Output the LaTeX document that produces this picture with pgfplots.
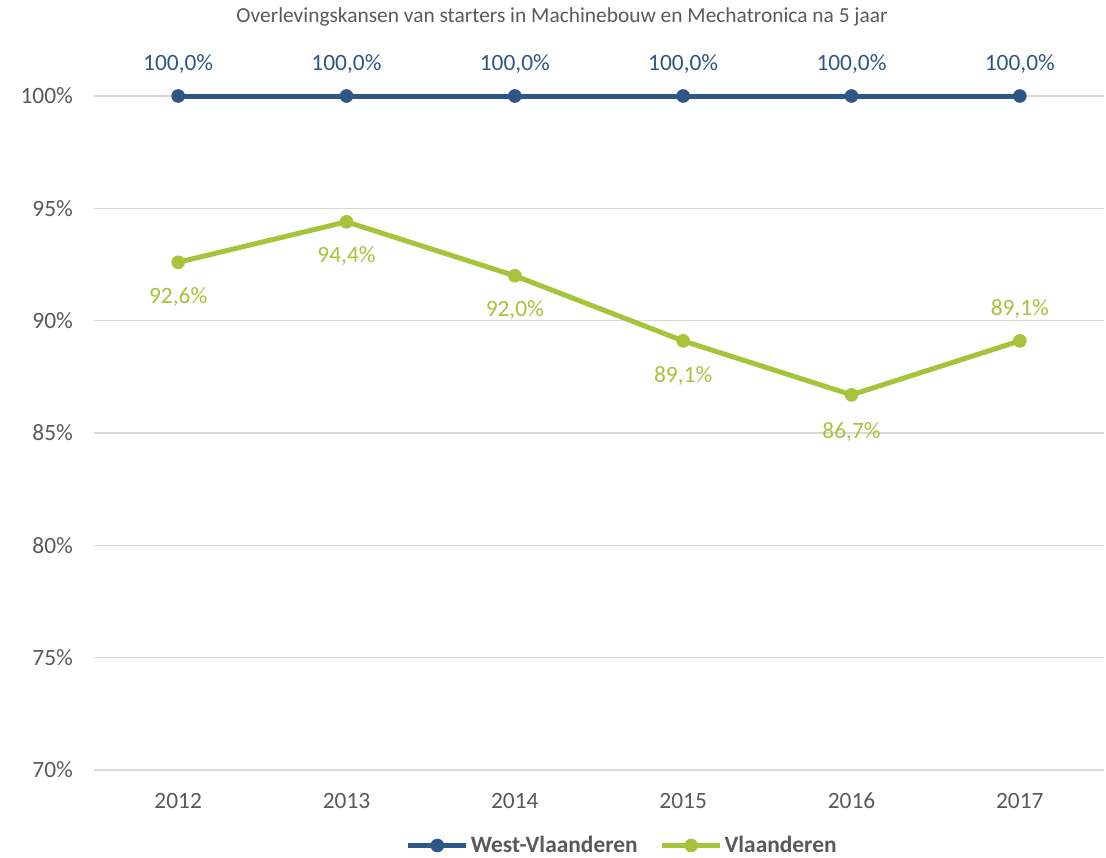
\documentclass[border=0pt]{standalone}
\usepackage{fontspec}
\setmainfont{Carlito}
\usepackage{pgfplots}
\pgfplotsset{compat=1.18}
\usepackage{pgfplotstable}
\definecolor{cBlue}{HTML}{2E5787}
\definecolor{cGreen}{HTML}{A5C43A}
\definecolor{cText}{HTML}{595959}
\definecolor{cGrid}{HTML}{D9D9D9}

% x = year index (0 = 2012), dy = label offset in pt
\pgfplotstableread{
x y dy
0 100 16
1 100 16
2 100 16
3 100 16
4 100 16
5 100 16
}\westvl
\pgfplotstableread{
x y dy
0 92.6 -17.5
1 94.4 -17
2 92.0 -17
3 89.1 -17.5
4 86.7 -18.5
5 89.1 16
}\vl

\begin{document}
\begin{tikzpicture}
\begin{axis}[
  at={(0pt,0pt)}, anchor=south west,
  scale only axis,
  width=505pt, height=337pt,
  xmin=-0.5, xmax=5.5,
  ymin=70, ymax=100,
  xtick={0,1,2,3,4,5},
  xticklabels={2012,2013,2014,2015,2016,2017},
  ytick={70,75,80,85,90,95,100},
  yticklabel={\pgfmathprintnumber{\tick}\%},
  /pgf/number format/assume math mode=true,
  major tick length=0pt,
  axis line style={draw=none},
  ymajorgrids,
  grid style={cGrid, line width=0.8pt},
  tick label style={font=\fontsize{11.7}{14}\selectfont, text=cText},
  yticklabel style={anchor=east, xshift=-7pt},
  xticklabel style={anchor=center, yshift=-15.5pt},
  clip=false,
  title={Overlevingskansen van starters in Machinebouw en Mechatronica na 5 jaar},
  title style={at={(0.4634,1.099)}, anchor=center, font=\fontsize{10.7}{12}\selectfont, text=cText},
  legend style={at={(0.523,-0.112)}, anchor=center, draw=none, fill=none,
    legend columns=2, font=\bfseries\fontsize{11.7}{14}\selectfont, text=cText,
    /tikz/every even column/.append style={column sep=10pt},
    nodes={inner xsep=1pt}},
  legend image code/.code={
    \draw[mark repeat=2, mark phase=2, #1] plot coordinates {(0pt,0pt) (14.5pt,0pt) (29pt,0pt)};
  },
  nodes near coords={\pgfmathprintnumber[fixed,fixed zerofill,precision=1,use comma]{\pgfplotspointmeta}\%},
  point meta=y,
  visualization depends on={\thisrow{dy} \as \dy},
]
\addplot[cBlue, line width=2.5pt, mark=*, mark size=3.2pt, mark options={line width=0.4pt},
  every node near coord/.append style={anchor=center, yshift=\dy pt, text=cBlue, font=\fontsize{11.7}{14}\selectfont}]
  table[x=x, y=y] {\westvl};
\addlegendentry{West-Vlaanderen}
\addplot[cGreen, line width=2.5pt, mark=*, mark size=3.2pt, mark options={line width=0.4pt},
  every node near coord/.append style={anchor=center, yshift=\dy pt, text=cGreen, font=\fontsize{11.7}{14}\selectfont}]
  table[x=x, y=y] {\vl};
\addlegendentry{Vlaanderen}
\end{axis}
\pgfresetboundingbox
\path (-47pt,-43.5pt) rectangle (506pt,385pt);
\end{tikzpicture}
\end{document}
